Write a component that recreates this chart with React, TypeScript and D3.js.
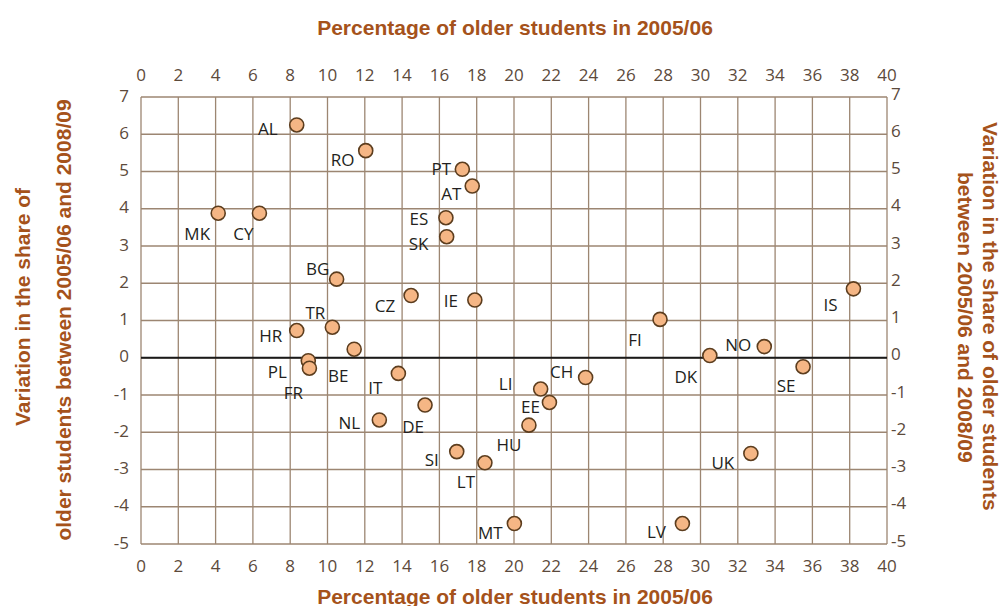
import * as d3 from "d3";

const countries = ["AL", "RO", "PT", "AT", "ES", "SK", "MK", "CY", "BG", "TR", "HR", "CZ", "IE", "BE", "PL", "FR", "IT", "NL", "DE", "SI", "LT", "MT", "HU", "LI", "EE", "CH", "FI", "DK", "NO", "SE", "IS", "UK", "LV"];
const share2005 = [8.35, 12.05, 17.23, 17.76, 16.35, 16.39, 4.14, 6.35, 10.49, 10.26, 8.35, 14.48, 17.9, 11.43, 8.97, 9.03, 13.8, 12.78, 15.23, 16.93, 18.44, 20.02, 20.8, 21.43, 21.9, 23.84, 27.83, 30.5, 33.42, 35.5, 38.2, 32.7, 29.03];
const variation = [6.25, 5.56, 5.06, 4.61, 3.76, 3.25, 3.88, 3.88, 2.11, 0.82, 0.73, 1.67, 1.55, 0.23, -0.08, -0.28, -0.42, -1.67, -1.27, -2.52, -2.82, -4.45, -1.81, -0.84, -1.2, -0.53, 1.03, 0.06, 0.3, -0.24, 1.85, -2.57, -4.45];
const xTicks = d3.range(0, 41, 2);
const yTicks = d3.range(-5, 8, 1);

// where each country code sits relative to its dot (px)
const labelOffsets: Record<string, [number, number]> = {
  AL: [-29, 4], RO: [-23, 9], PT: [-21, -1], AT: [-21, 7], ES: [-27, 1], SK: [-28, 7],
  MK: [-21, 20], CY: [-16, 20], BG: [-19, -11], TR: [-17, -15], HR: [-26, 5],
  CZ: [-26, 10], IE: [-24, 0], BE: [-16, 26], PL: [-31, 11], FR: [-16, 24],
  IT: [-23, 14], NL: [-30, 3], DE: [-12, 21], SI: [-25, 8], LT: [-19, 19],
  MT: [-24, 9], HU: [-20, 19], LI: [-35, -6], EE: [-19, 4], CH: [-24, -6],
  FI: [-25, 20], DK: [-24, 21], NO: [-26, -2], SE: [-17, 19], IS: [-23, 16],
  UK: [-28, 9], LV: [-26, 8],
};

const width = 1002;
const height = 606;
const margin = { top: 97, right: 115, bottom: 62, left: 141 };

const titleColor = "#a5521b";
const gridColor = "#9c8672";
const tickColor = "#5c4a3b";
const titleFont = "'Liberation Sans', Arial, sans-serif";
const bodyFont = "'Open Sans', sans-serif";

const App = () => {
  const x = d3.scaleLinear().domain([0, 40]).range([margin.left, width - margin.right]);
  const y = d3.scaleLinear().domain([-5, 7]).range([height - margin.bottom, margin.top]);
  const [x0, x1] = x.range();
  const [y1, y0] = y.range();

  return (
    <svg width={width} height={height} style={{ position: "absolute", left: 0, top: 0, background: "#fff" }}>
      {/* grid */}
      {xTicks.map((t) => (
        <line key={"gx" + t} x1={x(t)} x2={x(t)} y1={y0} y2={y1} stroke={gridColor} strokeWidth={1.3} />
      ))}
      {yTicks.map((t) => (
        <line key={"gy" + t} x1={x0} x2={x1} y1={y(t)} y2={y(t)} stroke={gridColor} strokeWidth={1.3} />
      ))}
      <line x1={x0} x2={x1} y1={y(0)} y2={y(0)} stroke="#1a1a1a" strokeWidth={2} />

      {/* tick labels */}
      <g fontFamily={bodyFont} fontSize={17} fill={tickColor}>
        {xTicks.map((t) => (
          <g key={"tx" + t}>
            <text x={x(t)} y={74} textAnchor="middle" dominantBaseline="central">{t}</text>
            <text x={x(t)} y={565} textAnchor="middle" dominantBaseline="central">{t}</text>
          </g>
        ))}
        {yTicks.map((t) => (
          <g key={"ty" + t}>
            <text x={129} y={y(t) - 2} textAnchor="end" dominantBaseline="central">{t}</text>
            <text x={891} y={y(t) - 4} textAnchor="start" dominantBaseline="central">{t}</text>
          </g>
        ))}
      </g>

      {/* dots */}
      {countries.map((c, i) => (
        <circle key={"p" + c} cx={x(share2005[i])} cy={y(variation[i])} r={7} fill="#f5b685" stroke="#5c3d1e" strokeWidth={1.6} />
      ))}
      <g fontFamily={bodyFont} fontSize={17} fill="#231f20">
        {countries.map((c, i) => (
          <text key={"l" + c} x={x(share2005[i]) + labelOffsets[c][0]} y={y(variation[i]) + labelOffsets[c][1]} textAnchor="middle" dominantBaseline="central">
            {c}
          </text>
        ))}
      </g>

      {/* titles */}
      <g fontFamily={titleFont} fontSize={21} fontWeight="bold" fill={titleColor}>
        <text x={515} y={27} textAnchor="middle" dominantBaseline="central">Percentage of older students in 2005/06</text>
        <text x={515} y={596} textAnchor="middle" dominantBaseline="central">Percentage of older students in 2005/06</text>
        <text transform="translate(22,307) rotate(-90)" textAnchor="middle" dominantBaseline="central">Variation in the share of</text>
        <text transform="translate(63,320) rotate(-90)" textAnchor="middle" dominantBaseline="central">older students between 2005/06 and 2008/09</text>
        <text transform="translate(990,122) rotate(90)" textAnchor="start" dominantBaseline="central">Variation in the share of older students</text>
        <text transform="translate(965,172) rotate(90)" textAnchor="start" dominantBaseline="central">between 2005/06 and 2008/09</text>
      </g>
    </svg>
  );
};

export default App;
